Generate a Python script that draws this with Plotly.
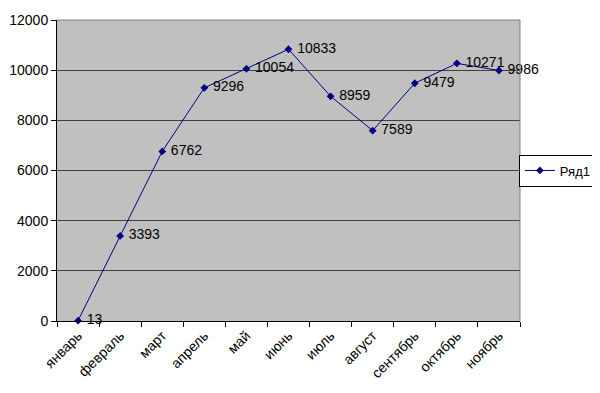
import plotly.graph_objects as go

months = ["январь", "февраль", "март", "апрель", "май", "июнь", "июль",
          "август", "сентябрь", "октябрь", "ноябрь"]
values = [13, 3393, 6762, 9296, 10054, 10833, 8959, 7589, 9479, 10271, 9986]
series_name = "Ряд1"

font = "Liberation Sans, Arial, sans-serif"

fig = go.Figure()
fig.add_trace(go.Scatter(
    x=months, y=values, name=series_name,
    mode="lines+markers+text",
    text=[" " + str(v) for v in values],
    textposition="middle right",
    textfont=dict(family=font, size=14, color="black"),
    line=dict(color="#000080", width=1),
    marker=dict(symbol="diamond", size=6, color="#000080"),
    cliponaxis=False,
))

# page body has an 8px margin, so the figure is 592x385 and starts at (8, 8)
fig.update_layout(
    width=592, height=385,
    margin=dict(l=49, r=80, t=11.5, b=72, autoexpand=False),
    paper_bgcolor="white",
    plot_bgcolor="#C0C0C0",
    font=dict(family=font, size=14, color="black"),
    showlegend=True,
    legend=dict(x=1.166, xanchor="right", y=0.5, yanchor="middle",
                bordercolor="black", borderwidth=1, bgcolor="white",
                font=dict(size=13), itemwidth=30,
                tracegroupgap=0),
    xaxis=dict(type="category", range=[-0.5, 10.5], tickson="boundaries",
               ticks="outside", ticklen=5, tickcolor="black",
               showline=True, linecolor="black", linewidth=1,
               showgrid=False, tickangle=-45, zeroline=False,
               automargin=False, tickfont=dict(size=14)),
    yaxis=dict(range=[0, 12000], dtick=2000, tickformat="d",
               ticks="outside", ticklen=5,
               tickcolor="black", showline=True, linecolor="black",
               linewidth=1, showgrid=True, gridcolor="#404040",
               gridwidth=1, zeroline=False, automargin=False,
               tickfont=dict(size=14)),
    shapes=[
        dict(type="line", xref="x domain", yref="y domain",
             x0=0, x1=1, y0=1, y1=1, line=dict(color="#808080", width=1)),
        dict(type="line", xref="x domain", yref="y domain",
             x0=1, x1=1, y0=0, y1=1, line=dict(color="#808080", width=1)),
    ],
)

fig.write_html("out.html")
